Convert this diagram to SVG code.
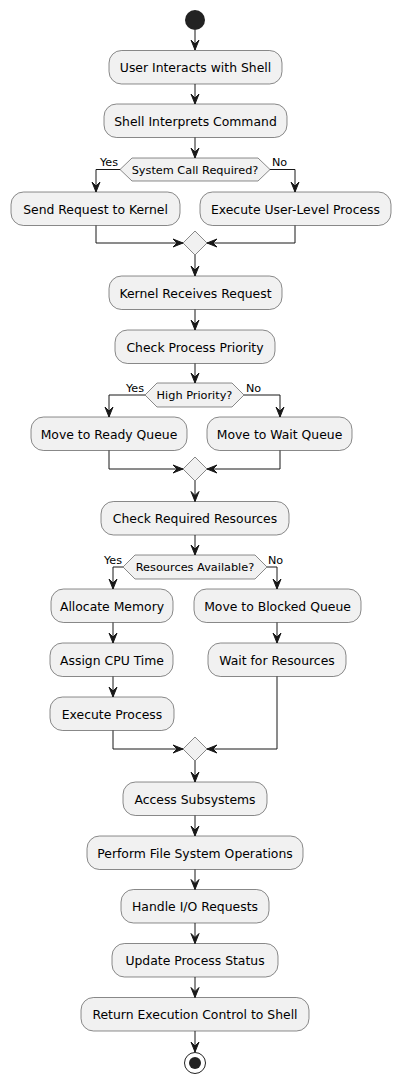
<svg xmlns="http://www.w3.org/2000/svg" width="401" height="1083" viewBox="0 0 401 1083">
<style>
.box{fill:#F1F1F1;stroke:#181818;stroke-width:0.5}
.t{font-family:"DejaVu Sans",sans-serif;font-size:12.4px;fill:#000;text-anchor:middle}
.d{font-family:"DejaVu Sans",sans-serif;font-size:11.3px;fill:#000;text-anchor:middle}
.l{font-family:"DejaVu Sans",sans-serif;font-size:11.2px;fill:#000}
.e{fill:none;stroke:#181818;stroke-width:1}
.h{fill:#181818;stroke:#181818;stroke-width:1}
</style>
<rect width="401" height="1083" fill="#FFFFFF"/>
<g id="start"><circle cx="195" cy="20" r="10" fill="#222222"/></g>
<g id="n1"><rect class="box" x="109" y="50.5" width="173" height="33.5" rx="12.5"/><text class="t" x="195.5" y="72">User Interacts with Shell</text></g>
<g id="n2"><rect class="box" x="104" y="104" width="183" height="33.5" rx="12.5"/><text class="t" x="195.5" y="125.5">Shell Interprets Command</text></g>
<g id="d1"><polygon class="box" points="120,169.5 132,158 258,158 270,169.5 258,181 132,181"/><text class="d" x="195" y="173.5">System Call Required?</text></g>
<g id="n3"><rect class="box" x="11" y="192" width="169" height="33.5" rx="12.5"/><text class="t" x="95.5" y="213.5">Send Request to Kernel</text></g>
<g id="n4"><rect class="box" x="200" y="192" width="191" height="33.5" rx="12.5"/><text class="t" x="295.5" y="213.5">Execute User-Level Process</text></g>
<g id="m1"><polygon class="box" points="195,231 207,243 195,255 183,243"/></g>
<g id="n5"><rect class="box" x="109" y="276" width="173" height="33.5" rx="12.5"/><text class="t" x="195.5" y="297.5">Kernel Receives Request</text></g>
<g id="n6"><rect class="box" x="115" y="330" width="160" height="33.5" rx="12.5"/><text class="t" x="195" y="351.5">Check Process Priority</text></g>
<g id="d2"><polygon class="box" points="145,395 157,383 232,383 244,395 232,407 157,407"/><text class="d" x="194.5" y="399">High Priority?</text></g>
<g id="n7"><rect class="box" x="31" y="417" width="156" height="33.5" rx="12.5"/><text class="t" x="109" y="438.5">Move to Ready Queue</text></g>
<g id="n8"><rect class="box" x="207" y="417" width="145" height="33.5" rx="12.5"/><text class="t" x="279.5" y="438.5">Move to Wait Queue</text></g>
<g id="m2"><polygon class="box" points="195,457 207,469 195,481 183,469"/></g>
<g id="n9"><rect class="box" x="101" y="501.5" width="188" height="33.5" rx="12.5"/><text class="t" x="195" y="523">Check Required Resources</text></g>
<g id="d3"><polygon class="box" points="123,567 135,555 255,555 267,567 255,579 135,579"/><text class="d" x="195" y="571">Resources Available?</text></g>
<g id="n10"><rect class="box" x="51" y="589" width="122" height="33.5" rx="12.5"/><text class="t" x="112" y="610.5">Allocate Memory</text></g>
<g id="n11"><rect class="box" x="50" y="643" width="123" height="33.5" rx="12.5"/><text class="t" x="112" y="664.5">Assign CPU Time</text></g>
<g id="n12"><rect class="box" x="50" y="697" width="124" height="33.5" rx="12.5"/><text class="t" x="112" y="718.5">Execute Process</text></g>
<g id="n13"><rect class="box" x="194" y="589" width="167" height="33.5" rx="12.5"/><text class="t" x="277.5" y="610.5">Move to Blocked Queue</text></g>
<g id="n14"><rect class="box" x="208" y="643" width="138" height="33.5" rx="12.5"/><text class="t" x="277" y="664.5">Wait for Resources</text></g>
<g id="m3"><polygon class="box" points="195,737 207,749 195,761 183,749"/></g>
<g id="n15"><rect class="box" x="123" y="782" width="144" height="33.5" rx="12.5"/><text class="t" x="195" y="803.5">Access Subsystems</text></g>
<g id="n16"><rect class="box" x="87" y="836" width="216" height="33.5" rx="12.5"/><text class="t" x="195" y="857.5">Perform File System Operations</text></g>
<g id="n17"><rect class="box" x="121" y="889.5" width="148" height="33.5" rx="12.5"/><text class="t" x="195" y="911">Handle I/O Requests</text></g>
<g id="n18"><rect class="box" x="112" y="943.5" width="166" height="33.5" rx="12.5"/><text class="t" x="195" y="965">Update Process Status</text></g>
<g id="n19"><rect class="box" x="81" y="997.5" width="228" height="33.5" rx="12.5"/><text class="t" x="195" y="1019">Return Execution Control to Shell</text></g>
<g id="end"><circle cx="195" cy="1063" r="10.5" fill="none" stroke="#222222" stroke-width="1"/><circle cx="195" cy="1063" r="6" fill="#222222"/></g>
<g id="connectors">
<path class="e" d="M195,30 V50"/><polygon class="h" points="191,40 195,50 199,40 195,44"/>
<path class="e" d="M195,84 V104"/><polygon class="h" points="191,94 195,104 199,94 195,98"/>
<path class="e" d="M195,137.5 V158"/><polygon class="h" points="191,148 195,158 199,148 195,152"/>
<path class="e" d="M120,169.5 H96 V192"/><polygon class="h" points="92,182 96,192 100,182 96,186"/>
<path class="e" d="M270,169.5 H295 V192"/><polygon class="h" points="291,182 295,192 299,182 295,186"/>
<path class="e" d="M96,225.5 V243 H183"/><polygon class="h" points="173,239 183,243 173,247 177,243"/>
<path class="e" d="M295,225.5 V243 H207"/><polygon class="h" points="217,239 207,243 217,247 213,243"/>
<path class="e" d="M195,255 V276"/><polygon class="h" points="191,266 195,276 199,266 195,270"/>
<path class="e" d="M195,309.5 V330"/><polygon class="h" points="191,320 195,330 199,320 195,324"/>
<path class="e" d="M195,363.5 V383"/><polygon class="h" points="191,373 195,383 199,373 195,377"/>
<path class="e" d="M145,395 H109 V417"/><polygon class="h" points="105,407 109,417 113,407 109,411"/>
<path class="e" d="M244,395 H280 V417"/><polygon class="h" points="276,407 280,417 284,407 280,411"/>
<path class="e" d="M109,450.5 V469 H183"/><polygon class="h" points="173,465 183,469 173,473 177,469"/>
<path class="e" d="M280,450.5 V469 H207"/><polygon class="h" points="217,465 207,469 217,473 213,469"/>
<path class="e" d="M195,481 V501.5"/><polygon class="h" points="191,491.5 195,501.5 199,491.5 195,495.5"/>
<path class="e" d="M195,535 V555"/><polygon class="h" points="191,545 195,555 199,545 195,549"/>
<path class="e" d="M123,567 H113 V589"/><polygon class="h" points="109,579 113,589 117,579 113,583"/>
<path class="e" d="M267,567 H277 V589"/><polygon class="h" points="273,579 277,589 281,579 277,583"/>
<path class="e" d="M113,622.5 V643"/><polygon class="h" points="109,633 113,643 117,633 113,637"/>
<path class="e" d="M113,676.5 V697"/><polygon class="h" points="109,687 113,697 117,687 113,691"/>
<path class="e" d="M277,622.5 V643"/><polygon class="h" points="273,633 277,643 281,633 277,637"/>
<path class="e" d="M113,730.5 V749 H183"/><polygon class="h" points="173,745 183,749 173,753 177,749"/>
<path class="e" d="M277,676.5 V749 H207"/><polygon class="h" points="217,745 207,749 217,753 213,749"/>
<path class="e" d="M195,761 V782"/><polygon class="h" points="191,772 195,782 199,772 195,776"/>
<path class="e" d="M195,815.5 V836"/><polygon class="h" points="191,826 195,836 199,826 195,830"/>
<path class="e" d="M195,869.5 V889.5"/><polygon class="h" points="191,879.5 195,889.5 199,879.5 195,883.5"/>
<path class="e" d="M195,923 V943.5"/><polygon class="h" points="191,933.5 195,943.5 199,933.5 195,937.5"/>
<path class="e" d="M195,977 V997.5"/><polygon class="h" points="191,987.5 195,997.5 199,987.5 195,991.5"/>
<path class="e" d="M195,1031 V1052"/><polygon class="h" points="191,1042 195,1052 199,1042 195,1046"/>
<text class="l" x="118" y="166" text-anchor="end">Yes</text>
<text class="l" x="272" y="166">No</text>
<text class="l" x="144" y="392" text-anchor="end">Yes</text>
<text class="l" x="246" y="392">No</text>
<text class="l" x="122" y="564" text-anchor="end">Yes</text>
<text class="l" x="268" y="564">No</text>
</g>
</svg>
